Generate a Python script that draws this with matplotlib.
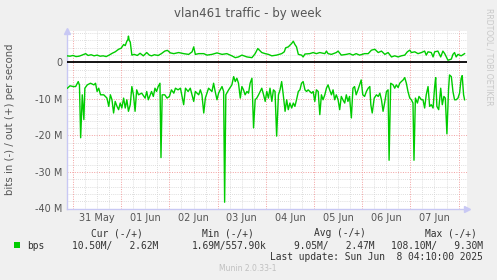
#!/usr/bin/env python
# coding: utf-8

import matplotlib
matplotlib.use('Agg')
import matplotlib.pyplot as plt
from matplotlib.patches import Rectangle

plt.rcParams['font.family'] = 'DejaVu Sans'

# -------------------------- data --------------------------
# time axis: hours since 31 May 00:00, values in Mbit/s
out_hours = [-3.0, -1.5, 0.0, 1.5, 3.0, 4.5, 6.3, 7.5, 9.0, 10.5, 12.0, 13.5, 15.0, 16.5,
             18.0, 19.5, 21.0, 22.7, 24.0, 25.2, 26.0, 26.8, 27.3, 27.6, 28.0, 28.5, 29.3,
             30.5, 32.0, 33.4, 35.0, 36.7, 38.0, 39.1, 40.5, 42.4, 44.0, 45.7,
             47.0, 48.5, 50.2, 52.6, 55.1, 57.6, 59.3, 60.1, 60.9, 62.6, 65.1, 66.7, 69.2,
             71.7, 74.2, 76.6, 79.1, 80.8, 82.4, 84.1, 86.6, 89.1, 90.7, 92.0, 94.0, 95.7,
             97.3, 99.0, 101.4, 103.9, 105.2, 105.9, 107.2, 108.0, 108.9, 109.7, 110.5,
             111.3, 112.2, 113.8, 114.6, 115.5, 117.9, 119.6, 121.2, 122.9, 125.4, 126.2,
             127.0, 128.7, 131.1, 132.0, 133.6, 136.1, 137.7, 139.4, 141.0, 142.7, 145.2,
             147.0, 148.6, 150.3, 152.0, 153.6, 155.3, 156.9, 158.6, 160.2, 161.9, 163.5,
             165.2, 166.5, 167.7, 168.5, 170.2, 171.8, 173.5, 175.1, 175.9, 176.8, 178.4,
             179.3, 180.1, 181.7, 183.1, 184.2, 185.1, 185.9, 186.7, 188.4, 189.2, 190.0,
             190.8, 191.7, 193.3, 195.0]
out_mbps = [1.8, 1.7, 1.9, 1.6, 1.7, 2.0, 2.4, 1.9, 2.1, 1.8, 2.0, 1.7, 1.8, 1.6,
            2.0, 2.5, 2.9, 3.6, 3.9, 4.9, 4.6, 5.8, 6.2, 7.2, 6.0, 5.6, 2.0,
            2.2, 1.9, 2.5, 1.8, 2.7, 2.0, 1.8, 2.1, 1.9, 2.4, 3.1,
            3.3, 2.6, 2.4, 2.7, 2.4, 2.2, 2.9, 4.25, 2.2, 2.4, 2.4, 2.0, 2.2,
            2.6, 2.2, 2.4, 1.8, 1.3, 1.5, 2.0, 1.5, 1.3, 2.4, 3.8, 2.7, 2.4,
            2.2, 1.8, 2.0, 2.4, 2.9, 4.0, 4.25, 4.7, 5.2, 5.8, 4.9,
            4.25, 2.2, 2.0, 1.5, 2.3, 2.4, 2.7, 2.4, 2.7, 2.4, 3.1,
            2.4, 2.2, 2.7, 3.1, 2.0, 2.2, 2.4, 2.0, 2.4, 2.0, 2.4,
            2.4, 3.35, 3.6, 2.7, 3.1, 2.2, 2.7, 1.5, 1.8, 1.5, 1.8,
            2.0, 2.9, 3.35, 2.7, 2.9, 2.4, 2.7, 3.1, 2.0, 2.9, 2.7,
            1.5, 2.9, 3.1, 1.5, 3.1, 2.4, 1.5, 0.6, 0.9, 2.2, 2.7,
            1.5, 2.2, 1.8, 2.4]

in_hours = [-2.8, -1.5, 0.0, 1.3, 2.6, 3.2, 3.8, 4.6, 5.4, 5.9, 7.1, 8.7, 10.4, 11.2,
            12.0, 12.8, 13.7, 15.3, 16.9, 17.8, 18.6, 19.4, 20.2, 21.0, 21.9, 22.7, 23.5,
            24.3, 25.2, 26.0, 26.8, 27.6, 28.5, 29.3, 30.1, 30.9, 31.7, 32.6, 34.2, 35.9,
            36.7, 37.5, 39.1, 40.0, 40.8, 41.6, 42.4, 43.3, 43.8, 44.4, 45.7,
            46.8, 48.0, 49.0, 50.2, 51.0, 52.3, 53.5, 55.1, 56.0, 57.3, 58.4, 60.1, 60.9,
            62.6, 63.4, 64.2, 65.1, 65.9, 66.7, 67.5, 69.2, 70.0, 70.8, 71.7, 72.5, 73.3,
            74.2, 75.0, 75.5, 76.1, 77.5, 79.1, 80.0, 80.8, 81.6, 82.4, 83.3, 84.1, 84.9,
            85.7, 86.6, 87.4, 88.2, 89.1, 89.9, 90.7, 91.5, 92.4, 94.0, 94.9, 95.7,
            96.5, 97.3, 98.1, 99.0, 99.8, 100.6, 101.4, 102.3, 103.1, 103.9, 104.7, 105.6,
            106.4, 107.2, 108.0, 108.9, 109.7, 110.5, 111.3, 112.2, 113.0, 113.8, 114.6,
            115.5, 116.3, 117.1, 118.8, 119.6, 120.4, 121.2, 122.1, 122.9, 123.7, 124.5,
            125.4, 126.2, 127.0, 127.8, 128.7, 129.5, 130.3, 131.1, 132.0, 132.8, 133.6,
            134.4, 135.3, 136.1, 136.9, 137.7, 138.6, 139.4, 140.2, 141.0, 141.9, 142.7,
            143.5, 144.3, 145.2,
            146.1, 147.0, 147.8, 148.3, 149.0, 150.0, 151.1, 152.0, 152.8, 153.6, 154.4,
            155.3, 156.1, 156.9, 157.4, 158.2, 159.4, 160.2, 161.0, 161.9, 162.7, 163.5,
            164.4, 165.2, 166.0, 166.8, 167.7, 168.5, 169.3, 169.8, 170.5, 171.5, 172.3,
            173.5, 174.3, 175.1, 175.9, 176.8, 177.6, 178.4, 179.3, 180.1, 180.6, 181.2,
            182.1, 183.1, 183.9, 184.7, 185.4, 186.2, 187.0, 187.5, 188.4, 189.2, 190.0,
            190.8, 191.7, 192.5, 193.3, 193.8, 194.5, 195.0]
in_mbps = [-7.06, -6.4, -6.6, -6.61, -5.25, -6.2, -20.63, -8.87, -15.66, -7.06, -6.15, -5.70, -6.15, -5.70,
           -7.96, -7.06, -8.87, -8.87, -9.77, -12.04, -8.87, -10.23, -13.85, -10.68, -12.04, -12.94, -11.13,
           -12.49, -9.77, -12.49, -10.23, -13.39, -11.58, -6.61, -8.87, -13.39, -7.51, -8.87, -8.42, -9.77,
           -7.96, -10.23, -7.96, -9.32, -7.06, -7.96, -6.61, -5.70, -26.06, -8.87, -8.87,
           -9.77, -9.32, -7.51, -8.42, -7.06, -7.51, -7.06, -11.58, -7.06, -7.96, -7.06, -10.68, -7.96,
           -8.87, -7.51, -8.87, -13.85, -9.77, -8.42, -7.06, -7.96, -5.70, -7.96, -10.23, -8.42, -7.51,
           -6.61, -7.96, -38.28, -8.87, -7.51, -6.15, -3.89, -5.25, -4.34, -5.70, -9.77, -6.61, -7.51,
           -8.87, -7.96, -8.42, -5.70, -4.34, -17.92, -10.23, -9.77, -8.87, -7.06, -8.87, -10.68,
           -7.96, -9.77, -7.06, -10.68, -7.51, -7.96, -20.18, -8.87, -7.51, -5.25, -8.87, -13.39,
           -10.23, -12.94, -11.13, -12.49, -11.13, -12.04, -10.23, -7.96, -7.51, -5.70, -5.25,
           -7.51, -7.96, -7.51, -8.42, -7.96, -10.68, -7.51, -7.96, -14.30, -8.87, -10.23,
           -8.87, -7.06, -6.15, -7.51, -8.87, -7.51, -10.23, -8.87, -10.23, -12.94, -9.32,
           -10.23, -11.13, -8.87, -10.68, -9.32, -15.20, -7.06, -6.61, -8.87, -7.51, -6.15,
           -4.80, -8.87, -9.32,
           -7.96, -7.06, -6.61, -11.58, -13.85, -9.77, -8.87, -9.32, -8.42, -10.23, -13.39,
           -10.68, -7.96, -7.51, -26.79, -5.70, -6.15, -7.06, -6.15, -6.88, -5.70, -5.25,
           -4.80, -4.16, -5.70, -7.96, -9.77, -10.23, -11.13, -26.79, -9.77, -11.13, -9.32,
           -10.23, -10.23, -12.49, -8.87, -6.61, -12.04, -11.58, -12.49, -6.61, -4.16, -12.04,
           -12.94, -7.06, -11.58, -9.32, -9.77, -19.55, -7.51, -3.44, -3.89, -7.96, -10.23,
           -10.23, -9.77, -8.42, -4.34, -3.62, -8.87, -10.23]

day_labels = ['31 May', '01 Jun', '02 Jun', '03 Jun', '04 Jun', '05 Jun', '06 Jun', '07 Jun']
y_ticks = [0, -10, -20, -30, -40]
y_labels = ['0', '-10 M', '-20 M', '-30 M', '-40 M']

legend_heads = ['Cur (-/+)', 'Min (-/+)', 'Avg (-/+)', 'Max (-/+)']
legend_vals = ['10.50M/   2.62M', '1.69M/557.90k', '9.05M/   2.47M', '108.10M/   9.30M']
last_update = 'Last update: Sun Jun  8 04:10:00 2025'

# -------------------------- plot --------------------------
W, H = 497, 280
GREEN = '#00cc00'
AXIS = '#c8c8f4'

fig = plt.figure(figsize=(W / 100, H / 100), dpi=100, facecolor='#f0f0f0')
ax = fig.add_axes([67 / W, 1 - 208.5 / H, 400 / W, 177.5 / H])
ax.set_facecolor('white')
ax.set_xlim(-3.0, 196.2)
ax.set_ylim(-40, 8.6)

# grid: 6 h / 2 M fine lines, day / 10 M coarse lines
for h in range(-0, 197, 6):
    if h % 24:
        ax.axvline(h, color='#d4d4d4', lw=0.6, ls=(0, (1, 1.5)), zorder=1)
for v in range(-40, 9, 2):
    if v % 10:
        ax.axhline(v, color='#d4d4d4', lw=0.6, ls=(0, (1, 1.5)), zorder=1)
for h in range(0, 197, 24):
    ax.axvline(h, color='#f2a0a0', lw=0.7, ls=(0, (1, 1.5)), zorder=1)
for v in y_ticks[1:]:
    ax.axhline(v, color='#f2a0a0', lw=0.7, ls=(0, (1, 1.5)), zorder=1)

ax.plot(out_hours, out_mbps, color=GREEN, lw=1.0, zorder=3)
ax.plot(in_hours, in_mbps, color=GREEN, lw=1.0, zorder=3)
ax.axhline(0, color='black', lw=1.3, zorder=4)

ax.set_xticks([12 + 24 * i for i in range(len(day_labels))])
ax.set_xticklabels(day_labels)
ax.set_yticks(y_ticks)
ax.set_yticklabels(y_labels)
ax.tick_params(length=0, labelsize=7, colors='#555555', pad=3)

for side in ['top', 'right']:
    ax.spines[side].set_visible(False)
for side in ['left', 'bottom']:
    ax.spines[side].set_color(AXIS)
    ax.spines[side].set_linewidth(1.0)
ax.plot([1.0], [0], marker='>', ms=5, color=AXIS, transform=ax.transAxes, clip_on=False)
ax.plot([0], [1.0], marker='^', ms=5, color=AXIS, transform=ax.transAxes, clip_on=False)

# titles
fig.text(248 / W, 1 - 13 / H, 'vlan461 traffic - by week', ha='center', va='center',
         fontsize=8.5, color='#555555')
fig.text(10 / W, 1 - 119 / H, 'bits in (-) / out (+) per second', ha='center', va='center',
         rotation=90, fontsize=7.3, color='#555555')
fig.text(489 / W, 1 - 57 / H, 'RRDTOOL / TOBI OETIKER', ha='center', va='center',
         rotation=270, fontsize=5.5, color='#c8c8c8')

# legend
mono = 'DejaVu Sans Mono'
fig.patches.append(Rectangle((14 / W, 1 - 248 / H), 6 / W, 6 / H, transform=fig.transFigure,
                             facecolor=GREEN, edgecolor='none'))
fig.text(27 / W, 1 - 246 / H, 'bps', ha='left', va='center', family=mono, fontsize=6.9, color='#333333')
head_right = [143, 253.5, 366, 477]
val_right = [158, 267, 375, 483]
for head, val, hx, vx in zip(legend_heads, legend_vals, head_right, val_right):
    fig.text(hx / W, 1 - 233 / H, head, ha='right', va='center', family=mono, fontsize=6.9, color='#333333')
    fig.text(vx / W, 1 - 246 / H, val, ha='right', va='center', family=mono, fontsize=6.9, color='#333333')
fig.text(483 / W, 1 - 257.5 / H, last_update, ha='right', va='center', family=mono, fontsize=6.9,
         color='#333333')
fig.text(248 / W, 1 - 268.5 / H, 'Munin 2.0.33-1', ha='center', va='center', fontsize=5.5,
         color='#c0c0c0')

fig.savefig('out.png', dpi=100, facecolor=fig.get_facecolor())
